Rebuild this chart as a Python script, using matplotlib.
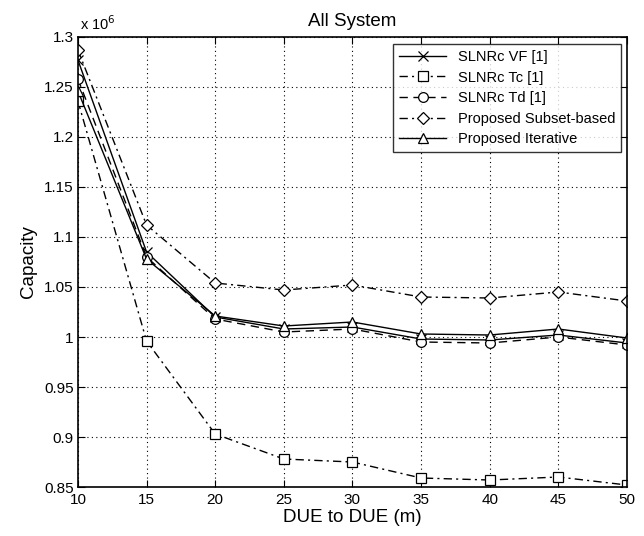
import matplotlib
matplotlib.use("Agg")
import matplotlib.pyplot as plt
from matplotlib.ticker import FuncFormatter

plt.rcParams['font.family'] = ['Liberation Sans', 'DejaVu Sans']

x = [10, 15, 20, 25, 30, 35, 40, 45, 50]
vf = [1.277, 1.085, 1.020, 1.008, 1.010, 0.998, 0.997, 1.002, 0.994]
tc = [1.236, 0.996, 0.903, 0.878, 0.875, 0.859, 0.857, 0.860, 0.852]
td = [1.258, 1.080, 1.018, 1.005, 1.008, 0.995, 0.994, 1.000, 0.992]
subset = [1.287, 1.112, 1.054, 1.047, 1.052, 1.040, 1.039, 1.045, 1.036]
iterative = [1.246, 1.078, 1.021, 1.011, 1.015, 1.003, 1.002, 1.008, 0.999]
labels = ['SLNRc VF [1]', 'SLNRc Tc [1]', 'SLNRc Td [1]',
          'Proposed Subset-based', 'Proposed Iterative']
scale = 1e6

fig = plt.figure(figsize=(6.44, 5.36), dpi=100)
ax = fig.add_axes([0.121, 0.0914, 0.8525, 0.8396])

series = [vf, tc, td, subset, iterative]
styles = [('-', 'x'), ((0, (6, 3, 1.5, 3)), 's'), ((0, (6, 4)), 'o'),
          ((0, (6, 3, 1.5, 3)), 'D'), ('-', '^')]
for s, (ls, mk), lab in zip(series, styles, labels):
    ms = 6 if mk == 'D' else 7
    ax.plot(x, [v * scale for v in s], color='black', linestyle=ls, linewidth=1.0,
            marker=mk, markersize=ms, markerfacecolor='white',
            markeredgecolor='black', markeredgewidth=0.9, label=lab)

ax.set_xlim(10, 50)
ax.set_ylim(0.85 * scale, 1.3 * scale)
ax.set_xticks(x)
yt = [0.85, 0.9, 0.95, 1.0, 1.05, 1.1, 1.15, 1.2, 1.25, 1.3]
ax.set_yticks([v * scale for v in yt])
ax.yaxis.set_major_formatter(FuncFormatter(lambda v, p: '%g' % round(v / scale, 3)))
ax.grid(True, color='black', linestyle=(0, (1, 3)), linewidth=0.8)
ax.tick_params(direction='in', top=True, right=True, labelsize=11, length=5)
ax.tick_params(axis='x', pad=4)
ax.tick_params(axis='y', pad=3)
for sp in ax.spines.values():
    sp.set_linewidth(1.2)

ax.set_title('All System', fontsize=13.5, pad=8)
ax.set_xlabel('DUE to DUE (m)', fontsize=13.5, labelpad=2)
ax.set_ylabel('Capacity', fontsize=13.5, labelpad=5)
ax.text(0.003, 1.008, r'x 10$^6$', transform=ax.transAxes, fontsize=10.5, ha='left', va='bottom')

leg = ax.legend(loc='upper right', fontsize=10.5, handlelength=3.2, frameon=True,
                fancybox=False, edgecolor='black', borderpad=0.4, labelspacing=0.45,
                borderaxespad=0, bbox_to_anchor=(0.989, 0.984))
leg.get_frame().set_linewidth(1.0)

fig.savefig('out.png', dpi=100)
